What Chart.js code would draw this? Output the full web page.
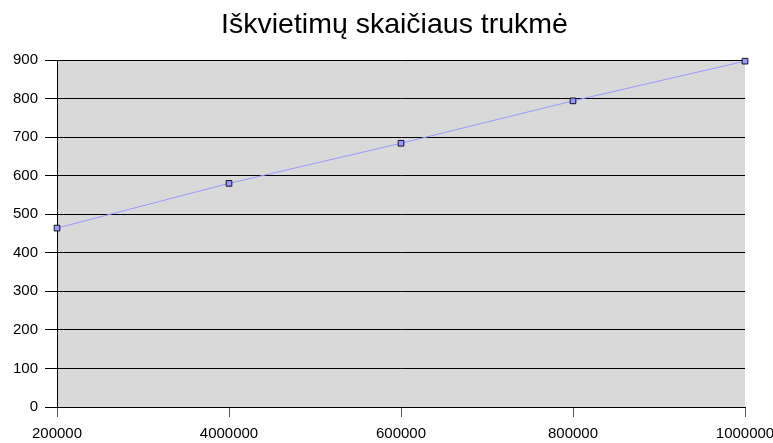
<!DOCTYPE html>
<html>
<head>
<meta charset="utf-8">
<script src="https://cdn.jsdelivr.net/npm/chart.js@4/dist/chart.umd.min.js"></script>
<style>
  html, body { margin: 0; padding: 0; background: #ffffff; }
  #wrap { width: 773px; height: 443px; }
</style>
</head>
<body>
<div id="wrap"><canvas id="c" width="773" height="443"></canvas></div>
<script>
// Call counts (category labels) and measured durations
const categories = ['200000', '4000000', '600000', '800000', '1000000'];
const durations = [464, 580, 684, 794, 897];
const yTicks = [0, 100, 200, 300, 400, 500, 600, 700, 800, 900];
const chartTitle = 'Iškvietimų skaičiaus trukmė';

// Grey plot background behind the grid
const plotBackground = {
  id: 'plotBackground',
  beforeDraw(chart) {
    const { ctx, chartArea: a } = chart;
    ctx.save();
    ctx.fillStyle = '#d9d9d9';
    ctx.fillRect(a.left, a.top, a.right - a.left, a.bottom - a.top);
    ctx.restore();
  }
};

// Nudge the title block so the heading sits a little right of the canvas centre
const titleShift = {
  id: 'titleShift',
  afterLayout(chart) {
    const t = chart.titleBlock;
    if (t) { t.left += 22; t.right += 22; }
  }
};

Chart.defaults.font.family = '"Liberation Sans", Arial, sans-serif';
Chart.defaults.color = '#000000';

new Chart(document.getElementById('c'), {
  type: 'line',
  data: {
    labels: categories,
    datasets: [{
      data: durations,
      borderColor: '#9999ff',
      borderWidth: 1,
      pointStyle: 'rect',
      pointRadius: 4,
      pointHoverRadius: 4,
      pointBackgroundColor: '#9999ff',
      pointBorderColor: '#111122',
      pointBorderWidth: 1,
      tension: 0,
      fill: false,
      clip: false
    }]
  },
  options: {
    responsive: false,
    animation: false,
    events: [],
    layout: { padding: { left: 0, right: 28, top: 0, bottom: 0 } },
    plugins: {
      legend: { display: false },
      tooltip: { enabled: false },
      title: {
        display: true,
        text: chartTitle,
        color: '#000000',
        font: { size: 28.5, weight: 'normal' },
        padding: { top: 8, bottom: 17.8 }
      }
    },
    scales: {
      x: {
        type: 'category',
        offset: false,
        border: { display: true, color: '#000000', width: 1 },
        grid: {
          display: true,
          drawOnChartArea: false,
          drawTicks: true,
          tickLength: 10,
          color: '#555555'
        },
        ticks: {
          font: { size: 15 },
          color: '#000000',
          padding: 8,
          maxRotation: 0,
          autoSkip: false
        },
        afterFit(scale) {
          scale.height = 36;
          scale.paddingLeft = 0;
          scale.paddingRight = 0;
        }
      },
      y: {
        min: 0,
        max: 900,
        afterBuildTicks(scale) { scale.ticks = yTicks.map(v => ({ value: v })); },
        border: { display: true, color: '#000000', width: 1 },
        grid: {
          color: '#000000',
          lineWidth: 1,
          tickLength: 12,
          drawTicks: true
        },
        ticks: {
          font: { size: 15 },
          color: '#000000',
          padding: 7
        },
        afterFit(scale) {
          scale.width = 57;
          scale.paddingTop = 0;
          scale.paddingBottom = 0;
        }
      }
    }
  },
  plugins: [plotBackground, titleShift]
});
</script>
</body>
</html>
